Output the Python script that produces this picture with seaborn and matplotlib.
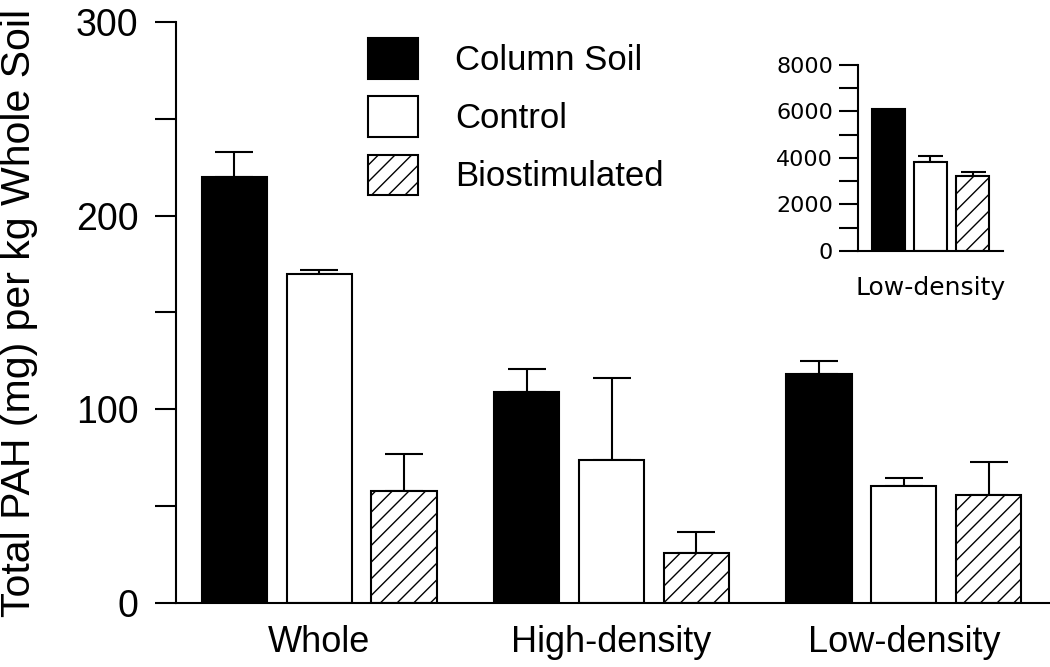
import matplotlib
matplotlib.use('Agg')
import matplotlib.pyplot as plt
from matplotlib.patches import Patch
import numpy as np
import pandas as pd
import seaborn as sns

# main panel
fractions = ['Whole', 'High-density', 'Low-density']
treatments = ['Column Soil', 'Control', 'Biostimulated']
column_soil = [220, 109, 118]
column_soil_err = [13, 12, 7]
control = [170, 74, 60.5]
control_err = [2, 42, 4]
biostim = [58, 26, 56]
biostim_err = [19, 10.5, 17]

# inset
inset_fractions = ['Low-density']
inset_column_soil = [6100]
inset_column_soil_err = [0]
inset_control = [3830]
inset_control_err = [260]
inset_biostim = [3240]
inset_biostim_err = [170]

colors = {'Column Soil': 'black', 'Control': 'white', 'Biostimulated': 'white'}
hatches = {'Column Soil': '', 'Control': '', 'Biostimulated': '//'}

sns.set_style('ticks')
plt.rcParams['font.family'] = ['Liberation Sans', 'DejaVu Sans']
plt.rcParams['hatch.linewidth'] = 1.0
for k in ['text.color', 'axes.labelcolor', 'xtick.color', 'ytick.color', 'axes.edgecolor']:
    plt.rcParams[k] = 'black'


def make_df(cats, vals, errs):
    rows = []
    for t, v, e in zip(treatments, vals, errs):
        for c, vi, ei in zip(cats, v, e):
            rows.append({'fraction': c, 'treatment': t, 'value': vi, 'err': ei})
    return pd.DataFrame(rows)


def draw_bars(ax, df, capsize):
    sns.barplot(data=df, x='fraction', y='value', hue='treatment', hue_order=treatments,
                palette=colors, saturation=1, width=0.87, gap=0.23, edgecolor='black',
                linewidth=1.5, errorbar=None, legend=False, ax=ax)
    for t, cont in zip(treatments, ax.containers):
        sub = df[df.treatment == t].reset_index(drop=True)
        for p in cont.patches:
            p.set_hatch(hatches[t])
        xs = np.array([p.get_x() + p.get_width() / 2 for p in cont.patches])
        keep = sub['err'].values > 0
        if keep.any():
            ax.errorbar(xs[keep], sub['value'].values[keep],
                        yerr=[np.zeros(keep.sum()), sub['err'].values[keep]],
                        fmt='none', ecolor='black', elinewidth=1.5, capsize=capsize,
                        capthick=1.5, zorder=0)


fig = plt.figure(figsize=(10.5, 6.67), dpi=100)

ax = fig.add_axes([0.1676, 0.096, 0.8324, 0.871])
df = make_df(fractions, [column_soil, control, biostim],
             [column_soil_err, control_err, biostim_err])
draw_bars(ax, df, capsize=14)
ax.set_ylim(0, 300)
ax.set_xlim(-0.49, 2.5)
ax.set_yticks([0, 100, 200, 300])
ax.set_yticks([50, 150, 250], minor=True)
ax.tick_params(axis='y', which='both', length=15, width=1.5, labelsize=27, pad=12)
ax.tick_params(axis='x', length=0, labelsize=26, pad=16)
ax.set_xlabel('')
ax.set_ylabel('Total PAH (mg) per kg Whole Soil', fontsize=29.5)
ax.yaxis.set_label_coords(-0.158, 0.5)
for s in ['top', 'right']:
    ax.spines[s].set_visible(False)
for s in ['left', 'bottom']:
    ax.spines[s].set_linewidth(1.5)

handles = [Patch(facecolor=colors[t], edgecolor='black', hatch=hatches[t],
                 linewidth=1.5, label=t) for t in treatments]
ax.legend(handles=handles, loc='upper left', bbox_to_anchor=(368 / 1050, 1 - 38 / 667),
          bbox_transform=fig.transFigure, frameon=False, fontsize=25,
          handlelength=1.44, handleheight=1.42, handletextpad=1.07,
          labelspacing=0.51, borderpad=0, borderaxespad=0)

axin = fig.add_axes([0.8171, 0.6237, 0.1381, 0.2789])
df_in = make_df(inset_fractions, [inset_column_soil, inset_control, inset_biostim],
                [inset_column_soil_err, inset_control_err, inset_biostim_err])
draw_bars(axin, df_in, capsize=9)
axin.set_ylim(0, 8000)
axin.set_xlim(-0.5, 0.5)
axin.set_yticks(np.arange(0, 8001, 2000))
axin.set_yticks(np.arange(1000, 8000, 2000), minor=True)
axin.tick_params(axis='y', which='both', length=14, width=1.5, labelsize=16, pad=4)
axin.tick_params(axis='x', length=0, labelsize=18, pad=18)
for lab in axin.get_xticklabels() + axin.get_yticklabels():
    lab.set_family('DejaVu Sans')
axin.set_xlabel('')
axin.set_ylabel('')
for s in ['top', 'right']:
    axin.spines[s].set_visible(False)
for s in ['left', 'bottom']:
    axin.spines[s].set_linewidth(1.5)

fig.savefig('out.png', dpi=100)
